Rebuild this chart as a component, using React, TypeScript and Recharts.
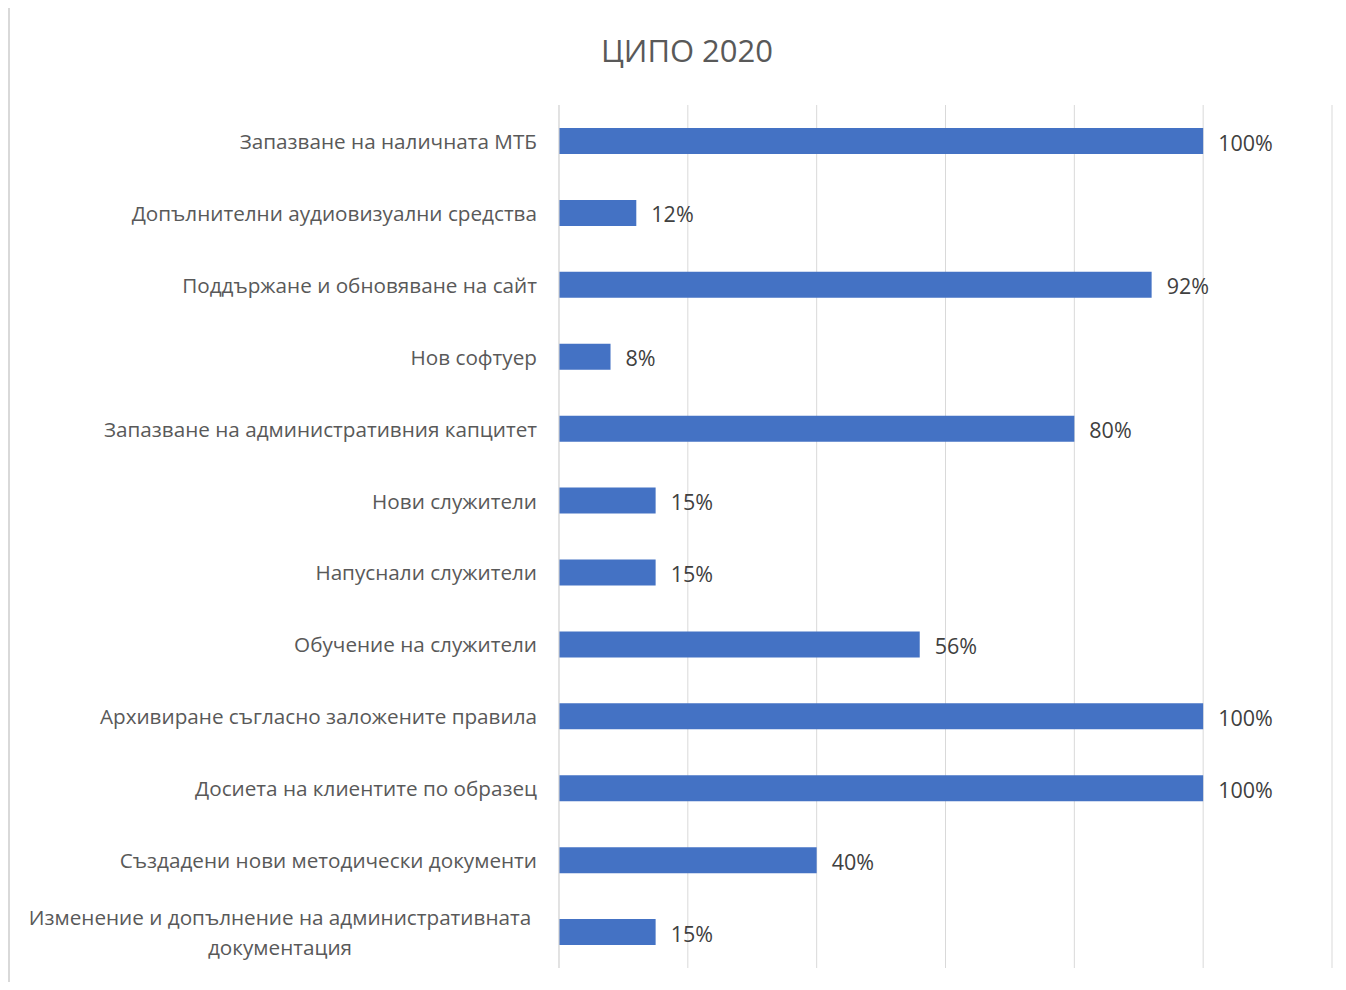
import React from 'react';
import { BarChart, Bar, XAxis, YAxis, CartesianGrid, LabelList } from 'recharts';

const title = 'ЦИПО 2020';
const categories: string[][] = [
  ['Запазване на наличната МТБ'],
  ['Допълнителни аудиовизуални средства'],
  ['Поддържане и обновяване на сайт'],
  ['Нов софтуер'],
  ['Запазване на административния капцитет'],
  ['Нови служители'],
  ['Напуснали служители'],
  ['Обучение на служители'],
  ['Архивиране съгласно заложените правила'],
  ['Досиета на клиентите по образец'],
  ['Създадени нови методически документи'],
  ['Изменение и допълнение на административната', 'документация'],
];
const values: number[] = [100, 12, 92, 8, 80, 15, 15, 56, 100, 100, 40, 15];
const xTicks: number[] = [0, 20, 40, 60, 80, 100, 120];

const data = categories.map((lines, i) => ({ name: lines.join(' '), lines, value: values[i] }));

const FONT = '"Open Sans", Lato, sans-serif';

const YTick = (props: any) => {
  const { x, y, payload, index } = props;
  const lines = data[index] ? data[index].lines : [payload.value];
  if (lines.length === 1) {
    return (
      <text x={x - 14} y={y} textAnchor="end" dominantBaseline="central" fontSize={20.7} fill="#595959" fontFamily={FONT}>
        {lines[0]}
      </text>
    );
  }
  const cx = x - 271;
  return (
    <text x={cx} y={y} textAnchor="middle" fontSize={20.7} fill="#595959" fontFamily={FONT}>
      {lines.map((l: string, k: number) => (
        <tspan key={k} x={cx} dy={k === 0 ? -15 : 30} dominantBaseline="central">{l}</tspan>
      ))}
    </text>
  );
};

const ValueLabel = (props: any) => {
  const { x, y, width, height, value } = props;
  return (
    <text x={x + width + 15} y={y + height / 2 + 1} dominantBaseline="central" fontSize={21.5} fill="#404040" fontFamily={FONT}>
      {value}%
    </text>
  );
};

export default function App() {
  return (
    <div style={{ margin: -8, width: 1346, height: 990, background: '#eef7fc', position: 'relative', overflow: 'hidden' }}>
      <div style={{ position: 'absolute', left: 0, top: 598, width: 8, height: 20, background: '#d4ebf8' }} />
      <div style={{ position: 'absolute', left: 0, top: 643, width: 8, height: 37, background: '#b9c9ec' }} />
      <div style={{ position: 'absolute', left: 0, top: 840, width: 8, height: 18, background: '#cfe6f7' }} />
      <div style={{ position: 'absolute', left: 8, top: 6, width: 1346, height: 1000, borderLeft: '2px solid #d9d9d9', borderTop: '2px solid #d9d9d9', background: '#ffffff' }}>
        <div style={{ position: 'absolute', left: 0, top: 22, width: 1354, textAlign: 'center', fontFamily: FONT, fontSize: 31, color: '#595959', lineHeight: '40px' }}>
          {title}
        </div>
        <div style={{ position: 'absolute', left: 0, top: 0 }}>
          <BarChart
            width={1336}
            height={980}
            data={data}
            layout="vertical"
            margin={{ top: 97, right: 14, bottom: 20, left: 0 }}
            barCategoryGap={0}
          >
            <CartesianGrid horizontal={false} vertical={true} stroke="#d9d9d9" strokeWidth={1} />
            <XAxis type="number" domain={[0, 120]} ticks={xTicks} hide />
            <YAxis
              type="category"
              dataKey="name"
              width={549}
              axisLine={{ stroke: '#d9d9d9' }}
              tickLine={false}
              tick={<YTick />}
              interval={0}
            />
            <Bar dataKey="value" fill="#4472c4" barSize={26} isAnimationActive={false}>
              <LabelList dataKey="value" content={<ValueLabel />} />
            </Bar>
          </BarChart>
        </div>
      </div>
    </div>
  );
}
